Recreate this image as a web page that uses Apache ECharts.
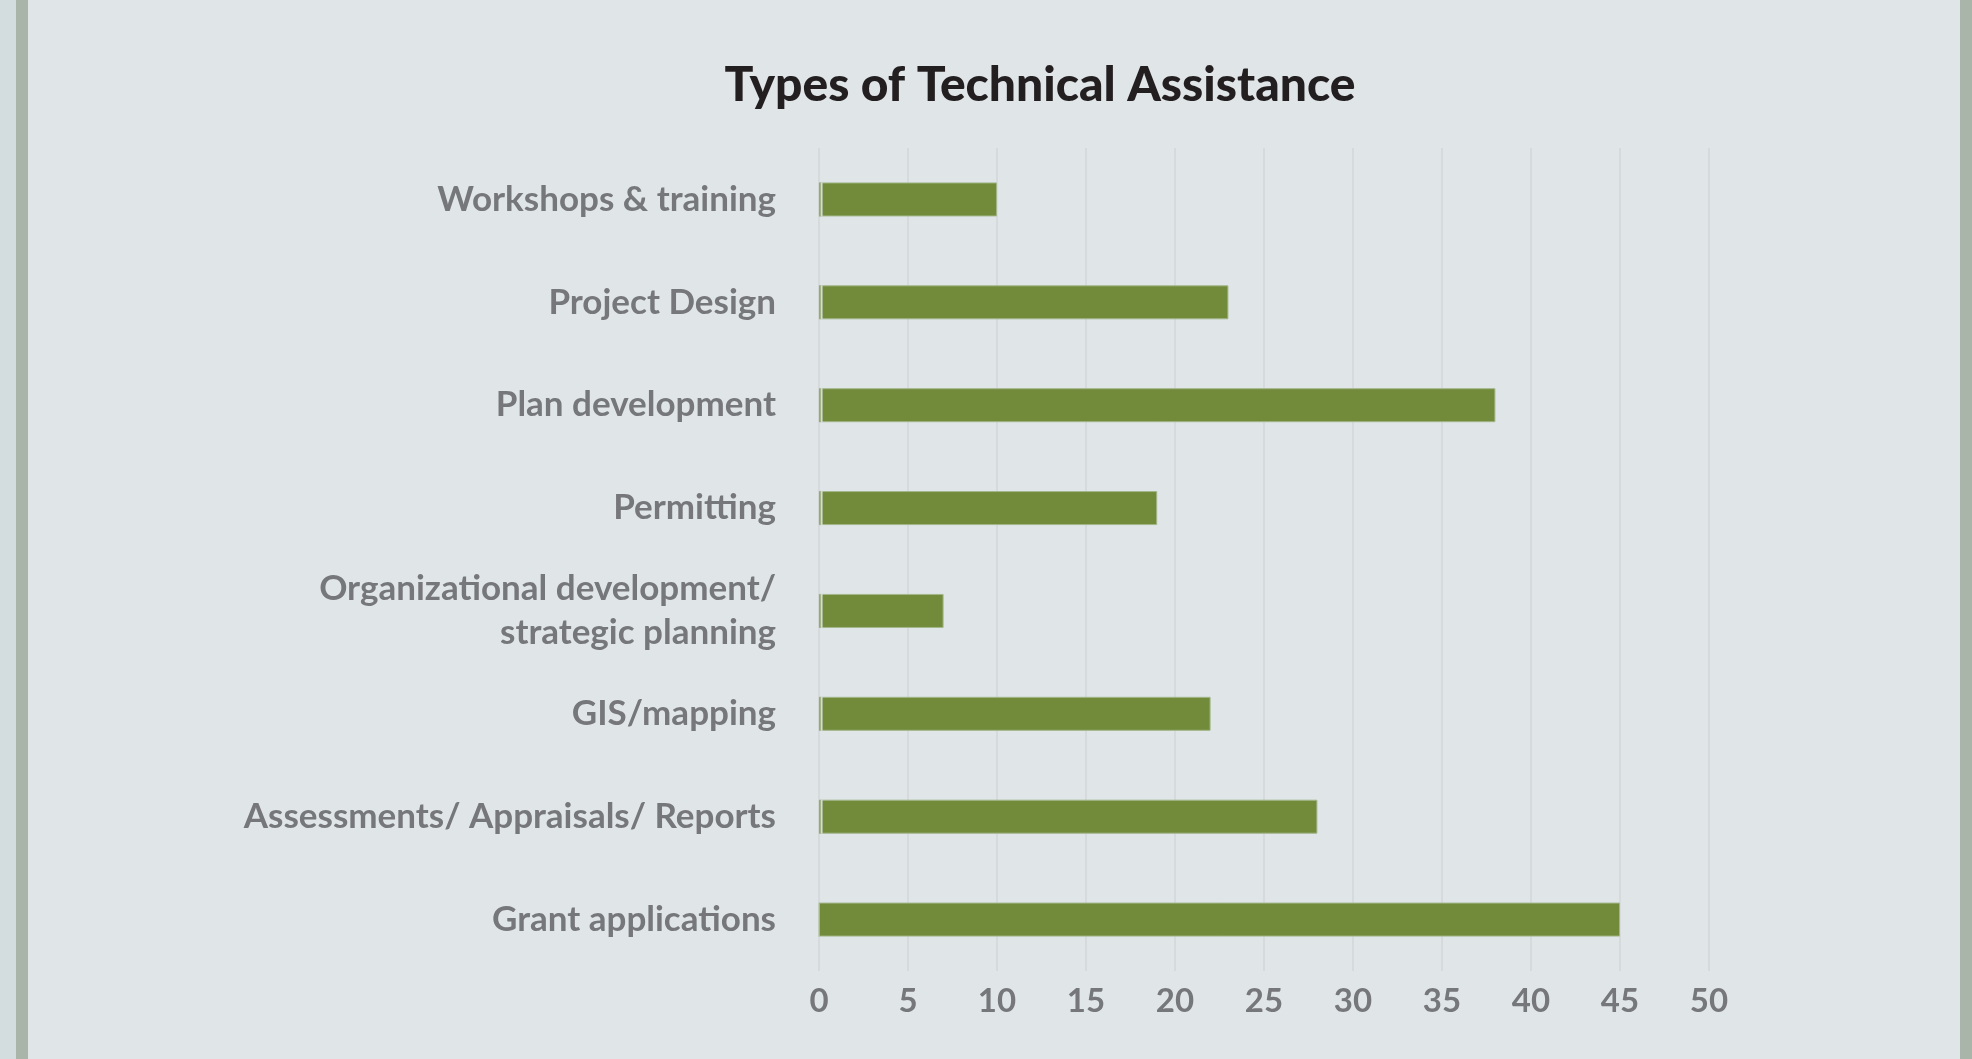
<!DOCTYPE html>
<html>
<head>
<meta charset="utf-8">
<title>Types of Technical Assistance</title>
<script src="https://cdn.jsdelivr.net/npm/echarts@6/dist/echarts.min.js"></script>
<style>
  html, body { margin: 0; padding: 0; }
  #chart {
    width: 1972px;
    height: 1059px;
    /* side stripes of the page */
    background: linear-gradient(to right,
      #d3dcdf 0 16px, #aab5a9 16px 28px, #e0e5e8 28px 1960px, #aab5a9 1960px 1972px);
  }
</style>
</head>
<body>
<div id="chart"></div>
<script>
// data, top to bottom
const categories = [
  'Workshops & training',
  'Project Design',
  'Plan development',
  'Permitting',
  'Organizational development/\nstrategic planning',
  'GIS/mapping',
  'Assessments/ Appraisals/ Reports',
  'Grant applications'
];
const counts = [10, 23, 38, 19, 7, 22, 28, 45];

// thin sliver + gap that shows at the start of most bars
const leadSliver = [0.1, 0.1, 0.1, 0.1, 0.1, 0.1, 0.1, 0];
const leadGap = [0.2, 0.2, 0.2, 0.2, 0.2, 0.2, 0.2, 0];

const xTicks = { min: 0, max: 50, step: 5 };

const labelFont = {
  fontFamily: 'Lato',
  fontWeight: 'bold',
  color: '#76777a'
};

const myChart = echarts.init(document.getElementById('chart'));

const option = {
  backgroundColor: 'transparent',
  animation: false,
  title: {
    text: 'Types of Technical Assistance',
    left: 1040,
    top: 62,
    padding: 0,
    textAlign: 'center',
    textStyle: {
      fontFamily: 'Lato',
      fontWeight: 900,
      fontSize: 48,
      color: '#231f20'
    }
  },
  grid: {
    left: 819,
    right: 263,
    top: 148,
    bottom: 88
  },
  xAxis: {
    type: 'value',
    min: xTicks.min,
    max: xTicks.max,
    interval: xTicks.step,
    axisLine: { show: false },
    axisTick: { show: false },
    splitLine: { show: true, lineStyle: { color: '#d6dadc', width: 2 } },
    axisLabel: Object.assign({ margin: 14, fontSize: 33 }, labelFont)
  },
  yAxis: {
    type: 'category',
    inverse: true,
    data: categories,
    axisLine: { show: false },
    axisTick: { show: false },
    splitLine: { show: false },
    axisLabel: Object.assign({
      margin: 43,
      lineHeight: 44,
      align: 'right',
      fontSize: 35,
      padding: [0, 0, 8, 0]
    }, labelFont)
  },
  series: [
    {
      name: 'Technical assistance',
      type: 'bar',
      barWidth: 34,
      barGap: '-100%',
      itemStyle: { color: '#718b3a', borderColor: '#a3b68a', borderWidth: 1 },
      data: counts
    },
    {
      name: 'gap',
      type: 'bar',
      barWidth: 34,
      barGap: '-100%',
      silent: true,
      itemStyle: { color: '#d6dadc' },
      data: leadGap
    },
    {
      name: 'lead',
      type: 'bar',
      barWidth: 34,
      barGap: '-100%',
      silent: true,
      itemStyle: { color: '#718b3a', borderColor: '#a9bb8f', borderWidth: 0.5 },
      data: leadSliver
    }
  ]
};

myChart.setOption(option);
</script>
</body>
</html>
